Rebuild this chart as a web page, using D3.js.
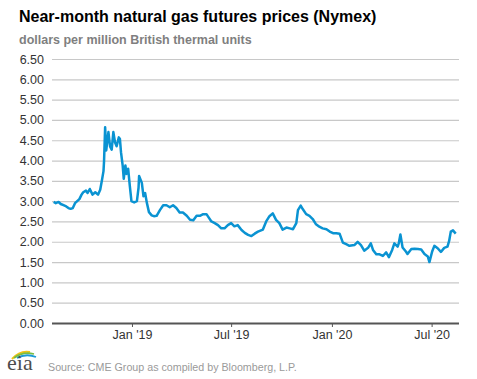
<!DOCTYPE html>
<html>
<head>
<meta charset="utf-8">
<title>Near-month natural gas futures prices</title>
<style>
  body { margin: 0; background: #fff; }
  svg { font-family: Arial, "Liberation Sans", sans-serif; }
</style>
</head>
<body>
<div id="chart"></div>
<script src="https://cdn.jsdelivr.net/npm/d3@7"></script>
<script>

// near-month price, $/MMBtu
var dates = [
  "2018-08-11","2018-08-15","2018-08-20","2018-08-24","2018-08-29","2018-09-03","2018-09-07","2018-09-11",
  "2018-09-15","2018-09-19","2018-09-23","2018-09-27","2018-10-01","2018-10-04","2018-10-09","2018-10-12",
  "2018-10-16","2018-10-21","2018-10-26","2018-10-31","2018-11-04","2018-11-07","2018-11-10","2018-11-11",
  "2018-11-13","2018-11-15","2018-11-19","2018-11-22","2018-11-25","2018-11-28","2018-12-01","2018-12-04",
  "2018-12-08","2018-12-10","2018-12-12","2018-12-15","2018-12-17","2018-12-20","2018-12-22","2018-12-25",
  "2018-12-28","2018-12-31","2019-01-05","2019-01-10","2019-01-13","2019-01-14","2019-01-19","2019-01-22",
  "2019-01-25","2019-01-28","2019-02-01","2019-02-06","2019-02-10","2019-02-15","2019-02-21","2019-02-27",
  "2019-03-05","2019-03-11","2019-03-17","2019-03-23","2019-03-29","2019-04-04","2019-04-11","2019-04-17",
  "2019-04-23","2019-04-29","2019-05-05","2019-05-11","2019-05-17","2019-05-20","2019-05-26","2019-06-01",
  "2019-06-07","2019-06-13","2019-06-19","2019-06-25","2019-07-01","2019-07-07","2019-07-13","2019-07-20",
  "2019-07-26","2019-08-01","2019-08-07","2019-08-13","2019-08-19","2019-08-28","2019-09-03","2019-09-09",
  "2019-09-15","2019-09-21","2019-09-27","2019-10-03","2019-10-10","2019-10-16","2019-10-22","2019-10-28",
  "2019-10-31","2019-11-05","2019-11-09","2019-11-15","2019-11-21","2019-11-27","2019-12-03","2019-12-09",
  "2019-12-15","2019-12-22","2019-12-28","2020-01-03","2020-01-09","2020-01-15","2020-01-21","2020-01-27",
  "2020-02-02","2020-02-11","2020-02-17","2020-02-23","2020-02-29","2020-03-07","2020-03-12","2020-03-16",
  "2020-03-22","2020-03-28","2020-04-03","2020-04-09","2020-04-14","2020-04-20","2020-04-24","2020-04-30",
  "2020-05-02","2020-05-05","2020-05-09","2020-05-15","2020-05-18","2020-05-25","2020-05-31","2020-06-06",
  "2020-06-12","2020-06-18","2020-06-24","2020-06-27","2020-07-02","2020-07-06","2020-07-12","2020-07-18",
  "2020-07-24","2020-07-30","2020-08-02","2020-08-05","2020-08-09","2020-08-14"
];
var prices = [
  2.98,2.95,2.98,2.93,2.90,2.87,2.83,2.81,
  2.83,2.95,3.00,3.05,3.16,3.22,3.26,3.20,
  3.30,3.16,3.22,3.16,3.28,3.50,3.74,3.98,
  4.82,4.25,4.70,4.35,4.27,4.70,4.45,4.35,
  4.57,4.53,4.20,3.88,3.55,3.88,3.67,3.80,
  3.38,3.00,2.97,3.00,3.33,3.62,3.45,3.12,
  3.20,2.97,2.73,2.65,2.63,2.64,2.78,2.90,
  2.90,2.85,2.90,2.83,2.72,2.72,2.64,2.54,
  2.53,2.64,2.64,2.68,2.68,2.62,2.50,2.46,
  2.41,2.33,2.33,2.41,2.46,2.38,2.41,2.29,
  2.22,2.17,2.14,2.20,2.25,2.30,2.50,2.63,
  2.70,2.54,2.46,2.30,2.35,2.33,2.31,2.46,
  2.78,2.89,2.80,2.68,2.64,2.56,2.43,2.37,
  2.33,2.31,2.25,2.21,2.21,2.20,1.98,1.94,
  1.90,1.92,2.00,1.92,1.78,1.85,1.96,1.80,
  1.69,1.69,1.65,1.74,1.62,1.80,1.96,1.88,
  1.96,2.18,1.86,1.76,1.70,1.82,1.83,1.82,
  1.81,1.70,1.64,1.50,1.76,1.90,1.84,1.75,
  1.85,1.88,2.02,2.25,2.28,2.20
];
var yTicks = [0, 0.5, 1, 1.5, 2, 2.5, 3, 3.5, 4, 4.5, 5, 5.5, 6, 6.5];
var xTicks = ["2019-01-01", "2019-07-01", "2020-01-01", "2020-07-01"];
var xDomain = ["2018-08-08", "2020-08-20"];

var width = 477, height = 379;
var margin = {top: 59, right: 18, bottom: 56, left: 52};

var parse = d3.timeParse("%Y-%m-%d");
var data = dates.map(function(d, i) { return {date: parse(d), value: prices[i]}; });

var svg = d3.select("#chart").append("svg")
    .attr("width", width)
    .attr("height", height);

var x = d3.scaleTime()
    .domain(xDomain.map(parse))
    .range([margin.left, width - margin.right]);

var y = d3.scaleLinear()
    .domain([0, 6.5])
    .range([height - margin.bottom, margin.top]);

// titles
svg.append("text")
    .attr("x", 19).attr("y", 22)
    .attr("font-size", 16).attr("font-weight", "bold").attr("fill", "#000")
    .text("Near-month natural gas futures prices (Nymex)");

svg.append("text")
    .attr("x", 19).attr("y", 44)
    .attr("font-size", 12.5).attr("font-weight", "bold").attr("fill", "#7f7f7f")
    .text("dollars per million British thermal units");

// gridlines + y labels
var yAxis = svg.append("g")
    .attr("class", "y axis")
    .attr("transform", "translate(" + margin.left + ",0)")
    .call(d3.axisLeft(y)
        .tickValues(yTicks)
        .tickSize(-(width - margin.left - margin.right))
        .tickPadding(8)
        .tickFormat(d3.format(".2f")));

yAxis.select(".domain").remove();
yAxis.selectAll(".tick line")
    .attr("stroke", function(d) { return d === 0 ? "#555" : "#c8c8c8"; })
    .attr("stroke-width", function(d) { return d === 0 ? 2 : 1.2; });
yAxis.selectAll(".tick text")
    .attr("font-size", 12.5).attr("fill", "#333")
    .attr("font-family", "Arial, 'Liberation Sans', sans-serif");

// x axis
var xAxis = svg.append("g")
    .attr("class", "x axis")
    .attr("transform", "translate(0," + y(0) + ")")
    .call(d3.axisBottom(x)
        .tickValues(xTicks.map(parse))
        .tickSize(4)
        .tickPadding(3)
        .tickFormat(d3.timeFormat("%b '%y")));

xAxis.select(".domain").remove();
xAxis.selectAll(".tick line").attr("stroke", "#555").attr("stroke-width", 1);
xAxis.selectAll(".tick text")
    .attr("font-size", 12.5).attr("fill", "#333")
    .attr("font-family", "Arial, 'Liberation Sans', sans-serif");

// the price line
var line = d3.line()
    .x(function(d) { return x(d.date); })
    .y(function(d) { return y(d.value); });

svg.append("path")
    .datum(data)
    .attr("fill", "none")
    .attr("stroke", "#0a93d2")
    .attr("stroke-width", 2.5)
    .attr("stroke-linejoin", "round")
    .attr("d", line);

// eia logo + source
var logo = svg.append("g");
logo.append("path")
    .attr("d", "M12,359 Q20,350 30,352")
    .attr("fill", "none").attr("stroke", "#f2c315").attr("stroke-width", 2);
logo.append("path")
    .attr("d", "M14,358 Q23,351 34,354")
    .attr("fill", "none").attr("stroke", "#79bd43").attr("stroke-width", 1.8);
logo.append("path")
    .attr("d", "M17,358 Q26,353 36,357")
    .attr("fill", "none").attr("stroke", "#1d9ad6").attr("stroke-width", 1.8);
logo.append("text")
    .attr("x", 7).attr("y", 370)
    .attr("font-family", "'Liberation Serif', 'DejaVu Serif', serif")
    .attr("font-size", 22).attr("fill", "#4d4d4d")
    .text("eia");

svg.append("text")
    .attr("x", 48).attr("y", 371)
    .attr("font-size", 10.7).attr("fill", "#9a9a9a")
    .text("Source: CME Group as compiled by Bloomberg, L.P.");

</script>
</body>
</html>
